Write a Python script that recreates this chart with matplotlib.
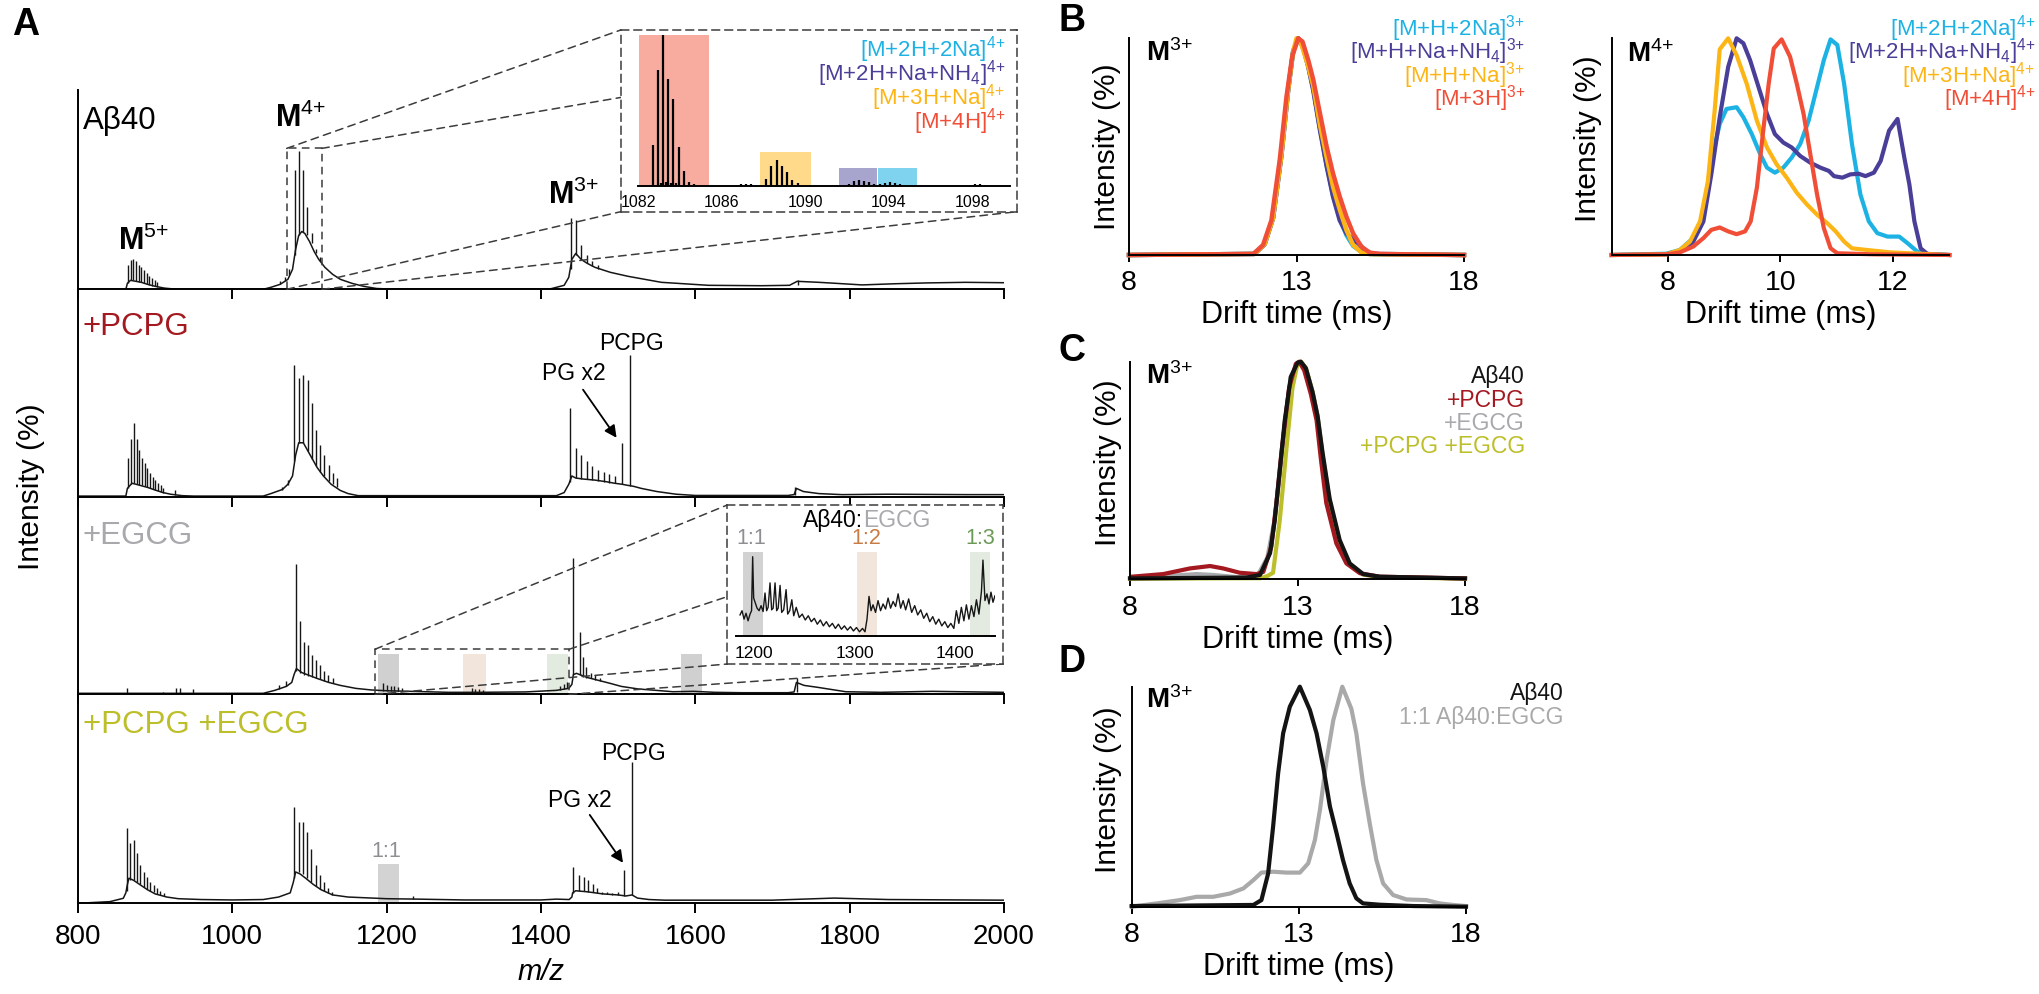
import matplotlib
matplotlib.use("Agg")
import matplotlib.pyplot as plt
from matplotlib.patches import Rectangle, ConnectionPatch

plt.rcParams["font.family"] = ["Liberation Sans", "DejaVu Sans"]
plt.rcParams["mathtext.fontset"] = "custom"
plt.rcParams["mathtext.rm"] = "Liberation Sans"
plt.rcParams["mathtext.it"] = "Liberation Sans:italic"
plt.rcParams["mathtext.bf"] = "Liberation Sans:bold"

# ---------------- panel A: mass spectra (relative intensity 0-1 per row) ----------------
a1_env_mz = [800, 862, 864, 868, 875, 882, 890, 900, 912, 928, 1040, 1050, 1062, 1072, 1078, 1082, 1086,
             1090, 1094, 1100, 1106, 1112, 1120, 1130, 1140, 1155, 1170, 1187, 1200, 1412, 1430, 1436, 1440,
             1445, 1452, 1460, 1470, 1490, 1513, 1556, 1617, 1686, 1722, 1732, 1760, 1782, 1816, 1860, 1900,
             1950, 2000]
a1_env_h = [0, 0, 0.03, 0.045, 0.04, 0.035, 0.025, 0.015, 0.006, 0, 0, 0.01, 0.025, 0.05, 0.1, 0.2, 0.27,
            0.29, 0.28, 0.24, 0.19, 0.15, 0.11, 0.075, 0.05, 0.03, 0.015, 0.004, 0.002, 0.002, 0.02, 0.06, 0.15,
            0.18, 0.15, 0.13, 0.11, 0.085, 0.065, 0.035, 0.02, 0.018, 0.02, 0.04, 0.035, 0.03, 0.022, 0.028, 0.032,
            0.035, 0.033]
a1_pk_mz = [864.4, 868.3, 871.7, 875.2, 878.6, 882.0, 885.5, 889.0, 892.4, 895.9, 899.5, 903.0,
            1062, 1068, 1074, 1080.8, 1086.4, 1092, 1097.1, 1102.8, 1108, 1113.6,
            1439.4, 1445.4, 1452.4, 1459.3, 1466.2, 1474.0, 1733]
a1_pk_base = [0.03, 0.045, 0.045, 0.04, 0.038, 0.035, 0.03, 0.026, 0.022, 0.018, 0.015, 0.012,
              0.025, 0.04, 0.07, 0.17, 0.27, 0.29, 0.27, 0.23, 0.18, 0.14,
              0.1, 0.17, 0.15, 0.13, 0.115, 0.1, 0.02]
a1_pk_top = [0.12, 0.147, 0.15, 0.14, 0.12, 0.11, 0.095, 0.08, 0.065, 0.055, 0.045, 0.035,
             0.04, 0.06, 0.1, 0.6, 0.694, 0.6, 0.415, 0.28, 0.2, 0.16,
             0.356, 0.35, 0.22, 0.17, 0.14, 0.12, 0.045]

a2_env_mz = [800, 862, 864, 870, 880, 890, 900, 910, 920, 935, 950, 1040, 1050, 1065, 1072, 1078, 1082,
             1086, 1092, 1098, 1104, 1110, 1118, 1128, 1140, 1150, 1163, 1420, 1430, 1436, 1440, 1445, 1455,
             1470, 1485, 1495, 1505, 1512, 1520, 1530, 1550, 1575, 1600, 1720, 1728, 1731, 1740, 1760, 1790,
             1850, 1950, 2000]
a2_env_h = [0.003, 0.003, 0.04, 0.065, 0.055, 0.045, 0.032, 0.02, 0.012, 0.005, 0.003, 0.003, 0.015, 0.035,
            0.06, 0.1, 0.2, 0.26, 0.26, 0.22, 0.18, 0.14, 0.1, 0.06, 0.03, 0.015, 0.005, 0.005, 0.02, 0.06,
            0.1, 0.09, 0.085, 0.08, 0.072, 0.065, 0.06, 0.055, 0.05, 0.04, 0.025, 0.012, 0.006, 0.006, 0.01,
            0.04, 0.025, 0.015, 0.01, 0.012, 0.01, 0.01]
a2_pk_mz = [864.4, 868.3, 872.6, 876.1, 879.5, 883.0, 886.4, 889.9, 893.3, 896.8, 900.2, 903.7, 907.1,
            910.6, 925.7,
            1065, 1072, 1080.3, 1086.4, 1091.5, 1097.6, 1103.1, 1108.3, 1113.9, 1119.1, 1124.7, 1130.3, 1135.5,
            1437.6, 1445.4, 1452.4, 1459.3, 1466.2, 1474.0, 1481.0, 1487.9, 1495.7, 1504.4, 1515.6, 1729.7]
a2_pk_base = [0.04, 0.06, 0.065, 0.062, 0.058, 0.055, 0.05, 0.046, 0.042, 0.038, 0.032, 0.028, 0.024,
              0.02, 0.01,
              0.03, 0.055, 0.17, 0.26, 0.26, 0.22, 0.18, 0.15, 0.12, 0.1, 0.075, 0.06, 0.045,
              0.07, 0.09, 0.087, 0.083, 0.08, 0.076, 0.072, 0.068, 0.064, 0.06, 0.052, 0.01]
a2_pk_top = [0.185, 0.28, 0.354, 0.28, 0.225, 0.185, 0.161, 0.137, 0.113, 0.096, 0.08, 0.068, 0.056,
             0.04, 0.032,
             0.045, 0.08, 0.635, 0.571, 0.587, 0.563, 0.45, 0.32, 0.25, 0.2, 0.153, 0.113, 0.09,
             0.426, 0.233, 0.2, 0.17, 0.15, 0.13, 0.12, 0.11, 0.1, 0.257, 0.683, 0.045]

a3_env_mz = [800, 1040, 1055, 1070, 1077, 1080, 1083, 1090, 1100, 1110, 1125, 1140, 1160, 1180, 1200, 1230,
             1280, 1320, 1380, 1420, 1436, 1440, 1442, 1446, 1460, 1475, 1490, 1504, 1526, 1549, 1571, 1598,
             1625, 1661, 1720, 1728, 1731, 1741, 1759, 1795, 1840, 1907, 2000]
a3_env_h = [0.005, 0.005, 0.02, 0.04, 0.06, 0.1, 0.13, 0.11, 0.095, 0.08, 0.06, 0.045, 0.03, 0.022, 0.018,
            0.015, 0.01, 0.01, 0.012, 0.02, 0.03, 0.05, 0.1, 0.106, 0.085, 0.07, 0.055, 0.04, 0.027, 0.02,
            0.013, 0.015, 0.01, 0.008, 0.008, 0.012, 0.06, 0.045, 0.035, 0.013, 0.01, 0.015, 0.01]
a3_pk_mz = [863.1, 910.5, 926.9, 932.1, 948.5,
            1060, 1070, 1082.9, 1087.7, 1092.9, 1097.6, 1102.8, 1108, 1113.6, 1118.8, 1124.4, 1130,
            1194.8, 1200, 1205, 1210, 1215, 1220, 1310, 1315, 1320, 1325, 1425, 1430, 1434,
            1442, 1450, 1454.4, 1458.9, 1464.4, 1470.2, 1476.8, 1731.6]
a3_pk_base = [0.005, 0.005, 0.005, 0.005, 0.005,
              0.025, 0.04, 0.12, 0.11, 0.1, 0.095, 0.088, 0.08, 0.075, 0.068, 0.06, 0.055,
              0.018, 0.018, 0.018, 0.018, 0.017, 0.016, 0.01, 0.01, 0.01, 0.01, 0.02, 0.025, 0.03,
              0.1, 0.1, 0.09, 0.085, 0.08, 0.072, 0.066, 0.01]
a3_pk_top = [0.03, 0.013, 0.03, 0.034, 0.025,
             0.045, 0.065, 0.66, 0.373, 0.266, 0.25, 0.2, 0.174, 0.15, 0.12, 0.1, 0.08,
             0.055, 0.045, 0.04, 0.04, 0.035, 0.03, 0.03, 0.028, 0.025, 0.022, 0.04, 0.05, 0.06,
             0.688, 0.317, 0.19, 0.14, 0.106, 0.1, 0.08, 0.081]

a4_env_mz = [800, 841.5, 858.7, 862, 864, 866, 872, 880, 890, 900, 915, 930, 960, 1000, 1040, 1060, 1075,
             1079, 1082, 1088, 1095, 1105, 1115, 1130, 1150, 1200, 1240, 1300, 1400, 1420, 1436.5, 1440, 1441,
             1445, 1460, 1480, 1500, 1510, 1518, 1525, 1540, 1560, 1700, 1780, 1850, 2000]
a4_env_h = [0, 0.008, 0.024, 0.05, 0.09, 0.12, 0.11, 0.09, 0.065, 0.045, 0.03, 0.022, 0.018, 0.016, 0.018,
            0.03, 0.05, 0.1, 0.15, 0.14, 0.12, 0.09, 0.065, 0.04, 0.03, 0.022, 0.02, 0.016, 0.016, 0.02,
            0.018, 0.03, 0.05, 0.06, 0.055, 0.045, 0.04, 0.035, 0.04, 0.025, 0.018, 0.015, 0.015, 0.025,
            0.018, 0.015]
a4_pk_mz = [863.5, 867.5, 872.2, 876.5, 880.8, 885.1, 889.5, 893.8, 898.1, 902.4, 906.7, 911.0,
            1080.3, 1085.9, 1091.5, 1096.7, 1102.3, 1107.9, 1113.1, 1118.3, 1123.9, 1129.5, 1234.6,
            1442, 1449.1, 1455.3, 1461.1, 1467.0, 1472.4, 1479.1, 1485.9, 1492.6, 1499.3, 1507.4, 1518.5]
a4_pk_base = [0.06, 0.11, 0.11, 0.1, 0.09, 0.08, 0.07, 0.06, 0.052, 0.045, 0.04, 0.035,
              0.12, 0.15, 0.14, 0.12, 0.1, 0.085, 0.07, 0.06, 0.05, 0.04, 0.02,
              0.05, 0.06, 0.058, 0.055, 0.052, 0.048, 0.045, 0.043, 0.041, 0.04, 0.037, 0.04]
a4_pk_top = [0.362, 0.287, 0.304, 0.24, 0.183, 0.151, 0.127, 0.103, 0.087, 0.071, 0.06, 0.05,
             0.462, 0.39, 0.39, 0.343, 0.258, 0.183, 0.136, 0.104, 0.072, 0.056, 0.035,
             0.172, 0.135, 0.127, 0.111, 0.092, 0.072, 0.056, 0.056, 0.05, 0.056, 0.159, 0.678]

# inset 1: isotope sticks of M4+
ins1_mz = [1082.69, 1082.94, 1083.07, 1083.20, 1083.32, 1083.44, 1083.56, 1083.68, 1083.81, 1083.94,
           1084.18, 1084.43, 1084.68, 1086.9, 1087.15, 1087.4,
           1088.11, 1088.37, 1088.63, 1088.87, 1089.12, 1089.38, 1089.63,
           1092.1, 1092.32, 1092.57, 1092.81, 1093.05, 1093.28,
           1093.56, 1093.8, 1094.05, 1094.3, 1094.52, 1098.1, 1098.35, 1098.6]
ins1_h = [0.27, 0.77, 0.02, 1.0, 0.025, 0.71, 0.02, 0.575, 0.015, 0.26,
          0.10, 0.027, 0.01, 0.008, 0.01, 0.008,
          0.044, 0.13, 0.17, 0.133, 0.09, 0.038, 0.015,
          0.011, 0.031, 0.038, 0.033, 0.027, 0.011,
          0.011, 0.018, 0.022, 0.018, 0.009, 0.008, 0.008, 0.006]
ins1_spans = [(1082.05, 1085.4, 1.0), (1087.85, 1090.25, 0.226), (1091.6, 1093.45, 0.12), (1093.5, 1095.35, 0.12)]
ins1_span_colors = ["#F7AC9F", "#FEDA8A", "#A7A4CE", "#7FD3EE"]

# inset 2: 1200-1440 region of +EGCG
ins2_mz = [1186, 1188, 1190, 1192, 1194, 1196, 1197.5, 1198.6, 1199.6, 1201,
           1203, 1205, 1207, 1209, 1210.9, 1212.5, 1214, 1215.9, 1217.5, 1219,
           1220.9, 1222.5, 1224, 1225.9, 1227.5, 1229.5, 1231.9, 1233.5, 1235.5, 1237.6,
           1239.5, 1242, 1245, 1248, 1251, 1254, 1257, 1260, 1263, 1266,
           1269, 1272, 1275, 1278, 1281, 1284, 1287, 1290, 1293, 1296,
           1299, 1302, 1305, 1308, 1310.5, 1312.5, 1314.5, 1316.5, 1318.5, 1321,
           1323.5, 1326, 1328.5, 1331, 1333.5, 1336, 1338.5, 1341, 1343.5, 1346,
           1348.5, 1351, 1354, 1357, 1360, 1363, 1366, 1369, 1372, 1375,
           1378, 1381, 1384, 1387, 1390, 1393, 1396, 1399, 1401.5, 1404,
           1406.5, 1409, 1411.5, 1414, 1416.5, 1419, 1421.5, 1424, 1426.5, 1428,
           1430, 1432, 1434, 1436, 1438, 1440, 1442]
ins2_h = [0.25, 0.3, 0.2, 0.27, 0.18, 0.26, 0.3, 0.94, 0.45, 0.4,
          0.33, 0.3, 0.36, 0.29, 0.51, 0.3, 0.34, 0.63, 0.31, 0.33,
          0.63, 0.3, 0.33, 0.6, 0.28, 0.31, 0.55, 0.26, 0.3, 0.43,
          0.24, 0.34, 0.22, 0.26, 0.19, 0.24, 0.17, 0.21, 0.14, 0.19,
          0.12, 0.17, 0.11, 0.15, 0.09, 0.14, 0.08, 0.12, 0.07, 0.11,
          0.06, 0.1, 0.05, 0.09, 0.05, 0.2, 0.47, 0.3, 0.37, 0.28,
          0.42, 0.3, 0.38, 0.32, 0.45, 0.33, 0.41, 0.35, 0.5, 0.33,
          0.42, 0.31, 0.44, 0.28, 0.36, 0.25, 0.31, 0.21, 0.27, 0.17,
          0.23, 0.14, 0.2, 0.12, 0.17, 0.1, 0.15, 0.09, 0.3, 0.15,
          0.34, 0.18, 0.37, 0.2, 0.36, 0.23, 0.43, 0.26, 0.53, 0.9,
          0.42, 0.5, 0.38, 0.52, 0.4, 0.48, 0.42]
ins2_spans = [(1189.3, 1209.2), (1302.9, 1322.3), (1415.5, 1434.8)]
ratio_labels = ["1:1", "1:2", "1:3"]
ratio_x = [1196.8, 1312.3, 1425.3]
ratio_colors = ["#8D8F92", "#C97B45", "#6B9A57"]
ratio_fill = ["#D2D2D2", "#F2E5DB", "#E3EBE0"]

# ---------------- panels B-D: arrival time distributions ----------------
b3_red_t = [8, 11.71, 12.0, 12.25, 12.5, 12.7, 12.87, 13.05, 13.18, 13.35, 13.5, 13.7, 13.9, 14.09, 14.29,
            14.49, 14.69, 14.94, 15.19, 15.49, 18]
b3_red_h = [0, 0.005, 0.046, 0.16, 0.44, 0.73, 0.915, 1.0, 0.985, 0.9, 0.81, 0.654, 0.5, 0.377, 0.27,
            0.177, 0.1, 0.038, 0.011, 0.005, 0]
b3_yel_t = [8, 11.75, 12.05, 12.3, 12.55, 12.75, 12.9, 13.0, 13.15, 13.35, 13.5, 13.7, 13.9, 14.09, 14.29,
            14.49, 14.69, 14.94, 15.2, 18]
b3_yel_h = [0, 0.005, 0.05, 0.17, 0.46, 0.76, 0.94, 1.0, 0.97, 0.87, 0.78, 0.6, 0.45, 0.315, 0.21, 0.115,
            0.046, 0.011, 0.004, 0]
b3_pur_t = [8, 11.75, 12.05, 12.3, 12.55, 12.75, 12.9, 13.05, 13.2, 13.35, 13.5, 13.7, 13.9, 14.09, 14.29,
            14.49, 14.69, 14.84, 15.09, 15.29, 18]
b3_pur_h = [0, 0.005, 0.05, 0.17, 0.46, 0.76, 0.94, 1.0, 0.96, 0.87, 0.76, 0.577, 0.41, 0.27, 0.16, 0.1,
            0.07, 0.054, 0.015, 0.005, 0]
b3_cya_t = [8, 11.75, 12.05, 12.3, 12.55, 12.75, 12.9, 13.05, 13.2, 13.35, 13.5, 13.7, 13.9, 14.09, 14.29,
            14.49, 14.69, 14.94, 15.2, 18]
b3_cya_h = [0, 0.005, 0.05, 0.17, 0.46, 0.76, 0.94, 1.0, 0.96, 0.87, 0.77, 0.585, 0.415, 0.277, 0.17,
            0.092, 0.042, 0.014, 0.004, 0]

b4_red_t = [7.0, 7.97, 8.21, 8.45, 8.63, 8.77, 8.92, 9.07, 9.22, 9.37, 9.47, 9.58, 9.70, 9.79, 9.88, 10.02,
            10.17, 10.29, 10.41, 10.53, 10.65, 10.77, 10.89, 11.01, 11.66, 13.0]
b4_red_h = [0, 0.003, 0.012, 0.039, 0.078, 0.116, 0.127, 0.109, 0.096, 0.109, 0.155, 0.31, 0.59, 0.79,
            0.953, 0.995, 0.915, 0.79, 0.651, 0.465, 0.279, 0.124, 0.031, 0.008, 0.003, 0]
b4_yel_t = [7.0, 7.97, 8.21, 8.39, 8.57, 8.71, 8.83, 8.92, 9.07, 9.22, 9.40, 9.58, 9.76, 9.93, 10.11, 10.29,
            10.47, 10.65, 10.83, 10.98, 11.13, 11.27, 11.54, 11.96, 12.55, 13.0]
b4_yel_h = [0, 0.003, 0.023, 0.062, 0.155, 0.341, 0.667, 0.949, 1.0, 0.922, 0.79, 0.62, 0.496, 0.419, 0.357,
            0.287, 0.233, 0.186, 0.147, 0.109, 0.062, 0.031, 0.023, 0.012, 0.005, 0]
b4_pur_t = [7.0, 7.97, 8.27, 8.45, 8.63, 8.77, 8.92, 9.07, 9.22, 9.34, 9.46, 9.61, 9.76, 9.90, 10.05, 10.20,
            10.35, 10.53, 10.71, 10.86, 10.95, 11.10, 11.24, 11.39, 11.51, 11.66, 11.78, 11.93, 12.08, 12.20,
            12.29, 12.38, 12.49, 12.61, 13.0]
b4_pur_h = [0, 0.003, 0.023, 0.062, 0.155, 0.372, 0.636, 0.868, 1.0, 0.977, 0.899, 0.775, 0.651, 0.558,
            0.519, 0.496, 0.457, 0.426, 0.403, 0.388, 0.364, 0.357, 0.372, 0.375, 0.364, 0.38, 0.434, 0.574,
            0.628, 0.45, 0.326, 0.155, 0.031, 0.005, 0]
b4_cya_t = [7.0, 7.97, 8.21, 8.45, 8.63, 8.77, 8.92, 9.04, 9.22, 9.34, 9.49, 9.64, 9.76, 9.90, 10.05, 10.20,
            10.35, 10.50, 10.65, 10.77, 10.89, 11.01, 11.13, 11.27, 11.42, 11.57, 11.72, 11.90, 12.11, 12.26,
            12.43, 12.61, 13.0]
b4_cya_h = [0, 0.006, 0.023, 0.078, 0.186, 0.434, 0.605, 0.674, 0.682, 0.636, 0.558, 0.465, 0.403, 0.38,
            0.403, 0.45, 0.512, 0.62, 0.775, 0.899, 0.995, 0.969, 0.791, 0.512, 0.279, 0.155, 0.101, 0.085,
            0.085, 0.054, 0.016, 0.005, 0]

c_blk_t = [8, 11.48, 11.88, 12.18, 12.32, 12.47, 12.62, 12.8, 13.0, 13.1, 13.25, 13.45, 13.6, 13.75, 13.96,
           14.26, 14.56, 14.96, 15.45, 18]
c_blk_h = [0.004, 0.008, 0.02, 0.12, 0.27, 0.5, 0.73, 0.93, 0.995, 1.0, 0.97, 0.86, 0.75, 0.58, 0.37, 0.18,
           0.073, 0.024, 0.012, 0.004]
c_red_t = [8.05, 8.99, 9.79, 10.39, 10.78, 11.28, 11.78, 11.98, 12.22, 12.37, 12.52, 12.75, 12.95, 13.05,
           13.2, 13.4, 13.57, 13.7, 13.86, 14.16, 14.46, 14.86, 15.45, 18]
c_red_h = [0.012, 0.024, 0.05, 0.061, 0.05, 0.03, 0.024, 0.034, 0.15, 0.35, 0.58, 0.88, 0.99, 1.0, 0.96,
           0.85, 0.73, 0.55, 0.35, 0.165, 0.073, 0.028, 0.012, 0.004]
c_gry_t = [8, 8.99, 9.99, 10.49, 11.2, 11.8, 12.1, 12.3, 12.47, 12.62, 12.8, 13.0, 13.1, 13.25, 13.45, 13.6,
           13.75, 13.96, 14.26, 14.56, 14.96, 15.45, 18]
c_gry_h = [0.005, 0.014, 0.024, 0.02, 0.01, 0.015, 0.1, 0.26, 0.48, 0.72, 0.93, 0.995, 1.0, 0.97, 0.86, 0.75,
           0.57, 0.36, 0.17, 0.07, 0.022, 0.01, 0.004]
c_olv_t = [8, 11.9, 12.1, 12.27, 12.47, 12.67, 12.85, 13.0, 13.1, 13.25, 13.45, 13.6, 13.75, 13.96, 14.26,
           14.56, 14.96, 15.45, 18]
c_olv_h = [0.003, 0.005, 0.015, 0.03, 0.27, 0.6, 0.88, 0.99, 1.0, 0.97, 0.86, 0.74, 0.56, 0.35, 0.17, 0.07,
           0.022, 0.01, 0.003]

d_blk_t = [8, 11.64, 11.88, 12.08, 12.23, 12.38, 12.53, 12.73, 13.03, 13.33, 13.53, 13.73, 13.93, 14.13,
           14.32, 14.52, 14.72, 14.92, 15.42, 16.42, 18]
d_blk_h = [0.003, 0.008, 0.03, 0.15, 0.364, 0.606, 0.788, 0.909, 1.0, 0.894, 0.788, 0.636, 0.455, 0.333,
           0.212, 0.106, 0.038, 0.015, 0.009, 0.003, 0]
d_gry_t = [8, 8.75, 9.44, 9.94, 10.44, 10.94, 11.34, 11.64, 11.88, 12.23, 12.63, 13.03, 13.28, 13.48, 13.63,
           13.83, 14.03, 14.3, 14.57, 14.72, 14.92, 15.12, 15.32, 15.52, 15.82, 16.22, 16.81, 17.21, 17.61, 18]
d_gry_h = [0, 0.015, 0.03, 0.045, 0.045, 0.06, 0.083, 0.121, 0.155, 0.159, 0.155, 0.155, 0.197, 0.303, 0.439,
           0.667, 0.848, 1.0, 0.9, 0.788, 0.56, 0.379, 0.212, 0.106, 0.053, 0.033, 0.03, 0.015, 0.008, 0.003]

CYA, PUR, YEL, RED = "#1DB2E4", "#4A3F98", "#FDB515", "#F04E37"
DRED, EGRY, OLIVE = "#A3191F", "#A7A9AC", "#BDBF2A"
LINE = "#161616"
DASH = (0, (5, 3.5))

W, H = 2040, 994
fig = plt.figure(figsize=(20.4, 9.94), dpi=100)


def box(x0, y0, x1, y1):
    return [x0 / W, 1 - y1 / H, (x1 - x0) / W, (y1 - y0) / H]


def ftext(x, y, s, **kw):
    return fig.text(x / W, 1 - y / H, s, **kw)


def ion(z):
    # bold M with a regular-weight charge superscript
    return r"$\mathbf{M}^{\mathrm{" + z + r"{+}}}$"


# ---------- panel A ----------
rows = [(90, 289.3), (289.3, 496.7), (496.7, 694.3), (694.3, 903.3)]
axA = [fig.add_axes(box(78, t, 1004, b)) for t, b in rows]
specs = [(a1_env_mz, a1_env_h, a1_pk_mz, a1_pk_base, a1_pk_top),
         (a2_env_mz, a2_env_h, a2_pk_mz, a2_pk_base, a2_pk_top),
         (a3_env_mz, a3_env_h, a3_pk_mz, a3_pk_base, a3_pk_top),
         (a4_env_mz, a4_env_h, a4_pk_mz, a4_pk_base, a4_pk_top)]
for i, ax in enumerate(axA):
    env_mz, env_h, pk_mz, pk_b, pk_t = specs[i]
    ax.plot(env_mz, env_h, color=LINE, lw=1.1)
    ax.vlines(pk_mz, pk_b, pk_t, color=LINE, lw=1.0)
    ax.set_xlim(800, 2000)
    ax.set_ylim(0, 1)
    ax.patch.set_alpha(0)
    for s in ["top", "right"]:
        ax.spines[s].set_visible(False)
    for s in ["left", "bottom"]:
        ax.spines[s].set_linewidth(1.4)
    ax.set_yticks([])
    ax.set_xticks(range(800, 2001, 200))
    ax.tick_params(axis="x", direction="out", length=7, width=1.4, labelsize=20, pad=8,
                   labelbottom=(i == 3))
axA[3].set_xlabel("m/z", fontstyle="italic", fontsize=21, labelpad=6)

axA[0].text(806, 0.803, "A\u03b240", fontsize=22.5, va="baseline")
axA[1].text(806, 0.78, "+PCPG", fontsize=22.5, va="baseline", color=DRED)
axA[2].text(806, 0.76, "+EGCG", fontsize=22.5, va="baseline", color=EGRY)
axA[3].text(806, 0.813, "+PCPG +EGCG", fontsize=22.5, va="baseline", color=OLIVE)

axA[0].text(851.8, 0.197, ion("5"), fontsize=22, va="baseline")
axA[0].text(1055.3, 0.816, ion("4"), fontsize=22, va="baseline")
axA[0].text(1409, 0.428, ion("3"), fontsize=22, va="baseline")

axA[1].text(1517.4, 0.707, "PCPG", fontsize=16.5, ha="center", va="baseline")
axA[1].annotate("", xy=(1500, 0.273), xytext=(1452.4, 0.527),
                arrowprops=dict(arrowstyle="-|>", color="black", lw=1.3, mutation_scale=18))
axA[1].text(1442, 0.563, "PG x2", fontsize=16.5, ha="center", va="baseline")
axA[3].text(1520.3, 0.686, "PCPG", fontsize=16.5, ha="center", va="baseline")
axA[3].annotate("", xy=(1508.3, 0.183), xytext=(1461.1, 0.434),
                arrowprops=dict(arrowstyle="-|>", color="black", lw=1.3, mutation_scale=18))
axA[3].text(1450, 0.462, "PG x2", fontsize=16.5, ha="center", va="baseline")
axA[3].add_patch(Rectangle((1188.3, 0), 27.6, 0.188, color="#D3D3D3", lw=0, zorder=0))
axA[3].text(1200, 0.223, "1:1", fontsize=15.5, ha="center", va="baseline", color="#8D8F92")

# shaded ratio positions in +EGCG trace
for (x0, x1), c in zip([(1188.3, 1215.9), (1299.3, 1328.3), (1407.4, 1435.2), (1580.9, 1608.2)],
                       ["#D0D0D0", "#F2E5DB", "#E3EBE0", "#D0D0D0"]):
    axA[2].add_patch(Rectangle((x0, 0), x1 - x0, 0.204, color=c, lw=0, zorder=0))

# dashed zoom boxes
axA[0].plot([1070.4, 1070.4, 1115.8, 1115.8], [0, 0.707, 0.707, 0], ls=DASH, color="#3c3c3c", lw=1.1)
axA[2].plot([1184.9, 1184.9, 1436.5, 1436.5], [0, 0.228, 0.228, 0], ls=DASH, color="#3c3c3c", lw=1.1)

fig.text(31 / W, 1 - 487 / H, "Intensity (%)", rotation=90, fontsize=21.5, ha="center", va="center")


def dashed_frame(rect):
    bx = fig.add_axes(box(*rect), zorder=5)
    bx.set_xticks([])
    bx.set_yticks([])
    bx.set_facecolor("white")
    for sp in bx.spines.values():
        sp.set_linestyle(DASH)
        sp.set_linewidth(1.1)
        sp.set_edgecolor("#3c3c3c")
    return bx


def inner_axes(rect, xlim, ticks, size):
    ix = fig.add_axes(box(*rect), zorder=6)
    ix.patch.set_alpha(0)
    ix.set_xlim(*xlim)
    ix.set_ylim(0, 1)
    for s in ["top", "right", "left"]:
        ix.spines[s].set_visible(False)
    ix.spines["bottom"].set_linewidth(1.4)
    ix.set_yticks([])
    ix.set_xticks(ticks)
    ix.tick_params(axis="x", length=0, labelsize=size, pad=7)
    return ix


def connect(ax, x0, x1, top, bx):
    for xa, ya, xb, yb in [(x0, top, 0, 1), (x1, top, 1, 1), (x0, 0, 0, 0), (x1, 0, 1, 0)]:
        con = ConnectionPatch(xyA=(xa, ya), coordsA=ax.transData, xyB=(xb, yb), coordsB=bx.transAxes,
                              ls=DASH, color="#3c3c3c", lw=1.1)
        con.set_zorder(2)
        fig.add_artist(con)


# inset 1
bx1 = dashed_frame((620.7, 30, 1016.7, 211.7))
ix1 = inner_axes((638.3, 35, 1010, 185.7), (1082, 1099.8), [1082, 1086, 1090, 1094, 1098], 11.5)
for (x0, x1, top), c in zip(ins1_spans, ins1_span_colors):
    ix1.add_patch(Rectangle((x0, 0), x1 - x0, top, color=c, lw=0, zorder=0))
ix1.vlines(ins1_mz, 0, ins1_h, color="black", lw=1.6)
connect(axA[0], 1070.4, 1115.8, 0.707, bx1)
labels4 = [r"[M+2H+2Na]$\mathregular{^{4{+}}}$", r"[M+2H+Na+NH$\mathregular{_4}$]$\mathregular{^{4{+}}}$",
           r"[M+3H+Na]$\mathregular{^{4{+}}}$", r"[M+4H]$\mathregular{^{4{+}}}$"]
labels3 = [r"[M+H+2Na]$\mathregular{^{3{+}}}$", r"[M+H+Na+NH$\mathregular{_4}$]$\mathregular{^{3{+}}}$",
           r"[M+H+Na]$\mathregular{^{3{+}}}$", r"[M+3H]$\mathregular{^{3{+}}}$"]
adduct_colors = [CYA, PUR, YEL, RED]
for k, (s, c) in enumerate(zip(labels4, adduct_colors)):
    t = ftext(1005, 56.7 + 24 * k, s, fontsize=16, color=c, ha="right", va="baseline")
    t.set_zorder(7)

# inset 2
bx2 = dashed_frame((727.3, 505, 1002.7, 664))
ix2 = inner_axes((736, 551.7, 995, 636), (1182, 1440), [1200, 1300, 1400], 12.5)
for (x0, x1), c in zip(ins2_spans, ratio_fill):
    ix2.add_patch(Rectangle((x0, 0), x1 - x0, 1.0, color=c, lw=0, zorder=0))
ix2.plot(ins2_mz, ins2_h, color=LINE, lw=1.0)
for s, x, c in zip(ratio_labels, ratio_x, ratio_colors):
    ix2.text(x, 1.03, s, fontsize=15.5, color=c, ha="center", va="bottom")
connect(axA[2], 1184.9, 1436.5, 0.228, bx2)
t = ftext(863.3, 527, "A\u03b240:", fontsize=16.5, ha="right", va="baseline")
t.set_zorder(7)
t = ftext(863.3, 527, "EGCG", fontsize=16.5, ha="left", va="baseline", color=EGRY)
t.set_zorder(7)


# ---------- panels B, C, D ----------
def drift_axes(rect, xlim, ticks):
    ax = fig.add_axes(box(*rect))
    ax.set_xlim(*xlim)
    ax.set_ylim(0, 1)
    ax.patch.set_alpha(0)
    for s in ["top", "right"]:
        ax.spines[s].set_visible(False)
    for s in ["left", "bottom"]:
        ax.spines[s].set_linewidth(1.4)
    ax.set_yticks([])
    ax.set_xticks(ticks)
    ax.tick_params(axis="x", direction="out", length=5, width=1.4, labelsize=20.5, pad=6)
    ax.set_xlabel("Drift time (ms)", fontsize=22, labelpad=3)
    return ax


axB1 = drift_axes((1129, 38.3, 1464, 255), (8, 18), [8, 13, 18])
axB2 = drift_axes((1611.7, 38.3, 1949.3, 255), (7, 13), [8, 10, 12])
axC = drift_axes((1130, 361.7, 1465, 579.3), (8, 18), [8, 13, 18])
axD = drift_axes((1131.7, 686.7, 1466, 906.7), (8, 18), [8, 13, 18])

for tt, hh, c in [(b3_cya_t, b3_cya_h, CYA), (b3_pur_t, b3_pur_h, PUR), (b3_yel_t, b3_yel_h, YEL),
                  (b3_red_t, b3_red_h, RED)]:
    axB1.plot(tt, hh, color=c, lw=3.2, clip_on=False, solid_joinstyle="round")
for tt, hh, c in [(b4_cya_t, b4_cya_h, CYA), (b4_pur_t, b4_pur_h, PUR), (b4_yel_t, b4_yel_h, YEL),
                  (b4_red_t, b4_red_h, RED)]:
    axB2.plot(tt, hh, color=c, lw=3.0, clip_on=False, solid_joinstyle="round")
for tt, hh, c in [(c_gry_t, c_gry_h, EGRY), (c_olv_t, c_olv_h, OLIVE), (c_red_t, c_red_h, DRED),
                  (c_blk_t, c_blk_h, "#141414")]:
    axC.plot(tt, hh, color=c, lw=3.0, clip_on=False, solid_joinstyle="round")
axD.plot(d_gry_t, d_gry_h, color="#A9A9A9", lw=3.0, clip_on=False)
axD.plot(d_blk_t, d_blk_h, color="#141414", lw=3.0, clip_on=False)

for k, (s, c) in enumerate(zip(labels3, adduct_colors)):
    ftext(1525, 35 + 23.6 * k, s, fontsize=16, color=c, ha="right", va="baseline")
for k, (s, c) in enumerate(zip(labels4, adduct_colors)):
    ftext(2035, 35 + 23.6 * k, s, fontsize=16, color=c, ha="right", va="baseline")
for k, (s, c) in enumerate(zip(["A\u03b240", "+PCPG", "+EGCG", "+PCPG +EGCG"],
                               ["#141414", DRED, EGRY, OLIVE])):
    ftext(1525, 383.3 + 23.3 * k, s, fontsize=16.5, color=c, ha="right", va="baseline")
ftext(1563.3, 700, "A\u03b240", fontsize=16.5, color="#141414", ha="right", va="baseline")
ftext(1563.3, 724, "1:1 A\u03b240:EGCG", fontsize=16.5, color="#A9A9A9", ha="right", va="baseline")

ftext(1146, 61, ion("3"), fontsize=20, va="baseline")
ftext(1626.7, 61.7, ion("4"), fontsize=20, va="baseline")
ftext(1146, 384.3, ion("3"), fontsize=20, va="baseline")
ftext(1146, 708, ion("3"), fontsize=20, va="baseline")

for x, y in [(1106.7, 146.7), (1588.3, 138.3), (1108, 463), (1108, 790)]:
    ftext(x, y, "Intensity (%)", rotation=90, fontsize=21.5, ha="center", va="center")

for s, x, y in [("A", 26, 25), ("B", 1072, 21), ("C", 1072, 351), ("D", 1072, 662)]:
    ftext(x, y, s, fontsize=27, fontweight="bold", ha="center", va="center")

fig.savefig("out.png", dpi=100)
